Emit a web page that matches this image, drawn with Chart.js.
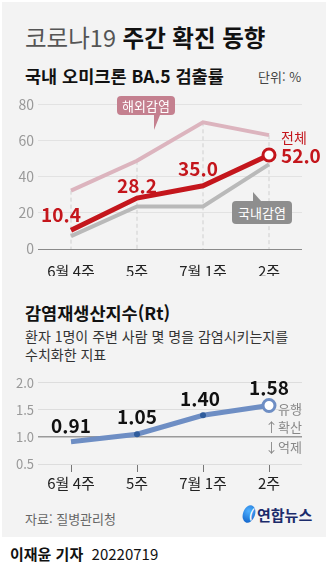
<!DOCTYPE html>
<html lang="ko">
<head>
<meta charset="utf-8">
<script src="https://cdn.jsdelivr.net/npm/chart.js@4"></script>
<style>
  body { margin: 0; width: 328px; height: 578px; background: #fff; position: relative; overflow: hidden;
         font-family: "Noto Sans CJK KR", "Noto Sans", sans-serif; }
  .panel { position: absolute; left: 2px; top: 2px; width: 324px; height: 535px; background: #f3f3f3; }
  .t { position: absolute; white-space: nowrap; line-height: 1; }
  .box { position: absolute; line-height: 1; color: #fff; font-size: 13px; border-radius: 4px; text-align: center; }
  .box:after { content: ""; position: absolute; border-style: solid; }
  #over { left: 117px; top: 96px; width: 58px; height: 19px; line-height: 19px; background: #c4808f; }
  #over:after { left: 37px; top: 19px; border-width: 0 0 15px 6px; border-color: transparent transparent transparent #c4808f; }
  #dom { left: 232px; top: 201px; width: 60px; height: 23px; line-height: 23px; background: #8e8e8e; }
  #dom:after { left: 21px; top: -9px; border-width: 9px 0 0 8px; border-color: transparent transparent transparent #8e8e8e; }
  canvas { position: absolute; }
</style>
</head>
<body>
<div class="panel"></div>
<div class="t" style="left:25px;top:26px;font-size:23.5px;color:#555;">코로나19 <b style="color:#111">주간 확진 동향</b></div>
<div class="t" style="left:25px;top:67px;font-size:17.5px;font-weight:bold;color:#111;">국내 오미크론 BA.5 검출률</div>
<div class="t" style="left:258px;top:70px;font-size:13px;color:#444;">단위: %</div>

<div style="position:absolute;left:0;top:92px;width:328px;height:184px;"><canvas id="rate"></canvas></div>
<div class="box" id="over">해외감염</div>
<div class="box" id="dom">국내감염</div>

<div class="t" style="left:25px;top:304px;font-size:17.5px;font-weight:bold;color:#111;">감염재생산지수(Rt)</div>
<div class="t" style="left:25px;top:329px;font-size:14px;color:#333;">환자 1명이 주변 사람 몇 명을 감염시키는지를</div>
<div class="t" style="left:25px;top:347px;font-size:14px;color:#333;">수치화한 지표</div>

<div style="position:absolute;left:0;top:371px;width:328px;height:124px;"><canvas id="rt"></canvas></div>

<div class="t" style="left:25px;top:512px;font-size:13px;color:#666;">자료: 질병관리청</div>
<div style="position:absolute;left:243px;top:505px;width:12px;height:18px;border-radius:50%;background:radial-gradient(circle at 40% 35%,#4fb0ff,#0a5bc4);transform:rotate(20deg);"></div>
<div class="t" style="left:248px;top:508px;font-size:12px;color:#fff;font-style:italic;font-weight:bold;">(</div>
<div class="t" style="left:257px;top:507px;font-size:15px;font-weight:bold;color:#1b2b6b;">연합뉴스</div>

<div class="t" style="left:10px;top:546px;font-size:15px;color:#111;"><b>이재윤 기자</b>&nbsp; 20220719</div>

<script>
// 주간 데이터
const weeks = ['6월 4주', '5주', '7월 1주', '2주'];
const total = [10.4, 28.2, 35.0, 52.0];     // 전체
const overseas = [32.3, 48.8, 70.1, 63.0];  // 해외감염
const domestic = [7.1, 23.5, 23.5, 46.8];   // 국내감염
const rtValues = [0.91, 1.05, 1.40, 1.58];
const rateTicks = [0, 20, 40, 60, 80];
const rtTicks = [0.5, 1.0, 1.5, 2.0];

const red = '#c4161c';
const blue = '#6e8ec4';
const font = '"Noto Sans CJK KR", "Noto Sans", sans-serif';

// 카테고리마다 가장 높은 점에서 축까지 점선
const dropLines = {
  id: 'dropLines',
  beforeDatasetsDraw(chart) {
    const {ctx, chartArea, scales} = chart;
    ctx.save();
    ctx.strokeStyle = '#cfcfcf';
    ctx.lineWidth = 1;
    ctx.setLineDash([4, 3]);
    weeks.forEach((w, i) => {
      const top = Math.max(...chart.data.datasets.map(d => d.data[i]));
      const x = scales.x.getPixelForValue(i);
      ctx.beginPath();
      ctx.moveTo(x, scales.y.getPixelForValue(top));
      ctx.lineTo(x, chartArea.bottom);
      ctx.stroke();
    });
    ctx.restore();
  }
};

// 값 라벨
function valueLabels(opts) {
  return {
    id: 'valueLabels',
    afterDatasetsDraw(chart) {
      const {ctx} = chart;
      const meta = chart.getDatasetMeta(0);
      ctx.save();
      ctx.font = 'bold 19px ' + font;
      ctx.fillStyle = opts.color;
      ctx.textBaseline = 'middle';
      meta.data.forEach((pt, i) => {
        const off = opts.offsets[i];
        ctx.textAlign = off[2] || 'center';
        ctx.fillText(opts.text(chart.data.datasets[0].data[i]), pt.x + off[0], pt.y + off[1]);
      });
      ctx.restore();
    }
  };
}

new Chart(document.getElementById('rate'), {
  type: 'line',
  data: {
    labels: weeks,
    datasets: [
      { label: '전체', data: total, borderColor: red, borderWidth: 5,
        pointRadius: [0, 0, 0, 6], pointBackgroundColor: '#fff', pointBorderColor: red, pointBorderWidth: 3 },
      { label: '국내감염', data: domestic, borderColor: '#b9b9b9', borderWidth: 4, pointRadius: 0 },
      { label: '해외감염', data: overseas, borderColor: '#dcb4be', borderWidth: 4, pointRadius: 0 }
    ]
  },
  options: {
    responsive: true,
    maintainAspectRatio: false,
    animation: false,
    layout: { padding: { top: 10, right: 26, bottom: 0, left: 0 } },
    plugins: { legend: { display: false }, tooltip: { enabled: false } },
    scales: {
      x: {
        offset: true,
        grid: { display: false },
        border: { display: false },
        ticks: { color: '#222', font: { size: 15, family: font }, padding: 5 },
        afterFit(s) { s.height = 27; }
      },
      y: {
        min: 0, max: 80,
        ticks: { stepSize: 10, color: '#999', font: { size: 14, family: font }, padding: 4,
                 callback: v => rateTicks.includes(v) ? v : '' },
        grid: { color: c => c.tick.value === 0 ? '#8a8a8a' : '#e2e2e2', drawTicks: false },
        border: { display: false },
        afterFit(s) { s.width = 38; }
      }
    }
  },
  plugins: [dropLines, valueLabels({
    color: red,
    text: v => v.toFixed(1),
    offsets: [[-10, -15], [0, -12], [-5, -17], [12, 1, 'left']]
  }), {
    id: 'totalTag',
    afterDatasetsDraw(chart) {
      const pt = chart.getDatasetMeta(0).data[3];
      const ctx = chart.ctx;
      ctx.save();
      ctx.font = '14px ' + font;
      ctx.fillStyle = red;
      ctx.textBaseline = 'middle';
      ctx.fillText('전체', pt.x + 12, pt.y - 17);
      ctx.restore();
    }
  }]
});

new Chart(document.getElementById('rt'), {
  type: 'line',
  data: {
    labels: weeks,
    datasets: [
      { label: 'Rt', data: rtValues, borderColor: blue, borderWidth: 5,
        pointRadius: [0, 3, 3, 6], pointBackgroundColor: ['#2f5c9c', '#2f5c9c', '#2f5c9c', '#fff'],
        pointBorderColor: ['#2f5c9c', '#2f5c9c', '#2f5c9c', blue], pointBorderWidth: [0, 0, 0, 3] }
    ]
  },
  options: {
    responsive: true,
    maintainAspectRatio: false,
    animation: false,
    layout: { padding: { top: 8, right: 26, bottom: 0, left: 0 } },
    plugins: { legend: { display: false }, tooltip: { enabled: false } },
    scales: {
      x: {
        offset: true,
        grid: { drawOnChartArea: false, drawTicks: true, tickLength: 8, color: '#777' },
        border: { display: false },
        ticks: { color: '#222', font: { size: 15, family: font }, padding: 2 },
        afterFit(s) { s.height = 31; }
      },
      y: {
        min: 0.5, max: 2.0,
        afterBuildTicks(s) { s.ticks = rtTicks.map(v => ({ value: v })); },
        ticks: { color: '#999', font: { size: 13, family: font }, padding: 4, callback: v => v.toFixed(1) },
        grid: { color: c => c.tick.value === 1 ? '#9a9a9a' : '#dddddd', lineWidth: c => c.tick.value === 1 ? 1.5 : 1, drawTicks: false },
        border: { display: false },
        afterFit(s) { s.width = 38; }
      }
    }
  },
  plugins: [valueLabels({
    color: '#111',
    text: v => v.toFixed(2),
    offsets: [[0, -16], [0, -17], [-3, -16], [0, -18]]
  }), {
    id: 'trendNote',
    afterDatasetsDraw(chart) {
      const {ctx, chartArea, scales} = chart;
      const one = scales.y.getPixelForValue(1.0);
      ctx.save();
      ctx.font = '13px ' + font;
      ctx.fillStyle = '#888';
      ctx.textAlign = 'right';
      ctx.textBaseline = 'middle';
      ctx.fillText('유행', chartArea.right, one - 28);
      ctx.fillText('↑확산', chartArea.right, one - 10);
      ctx.fillText('↓억제', chartArea.right, one + 10);
      ctx.restore();
    }
  }]
});
</script>
</body>
</html>
